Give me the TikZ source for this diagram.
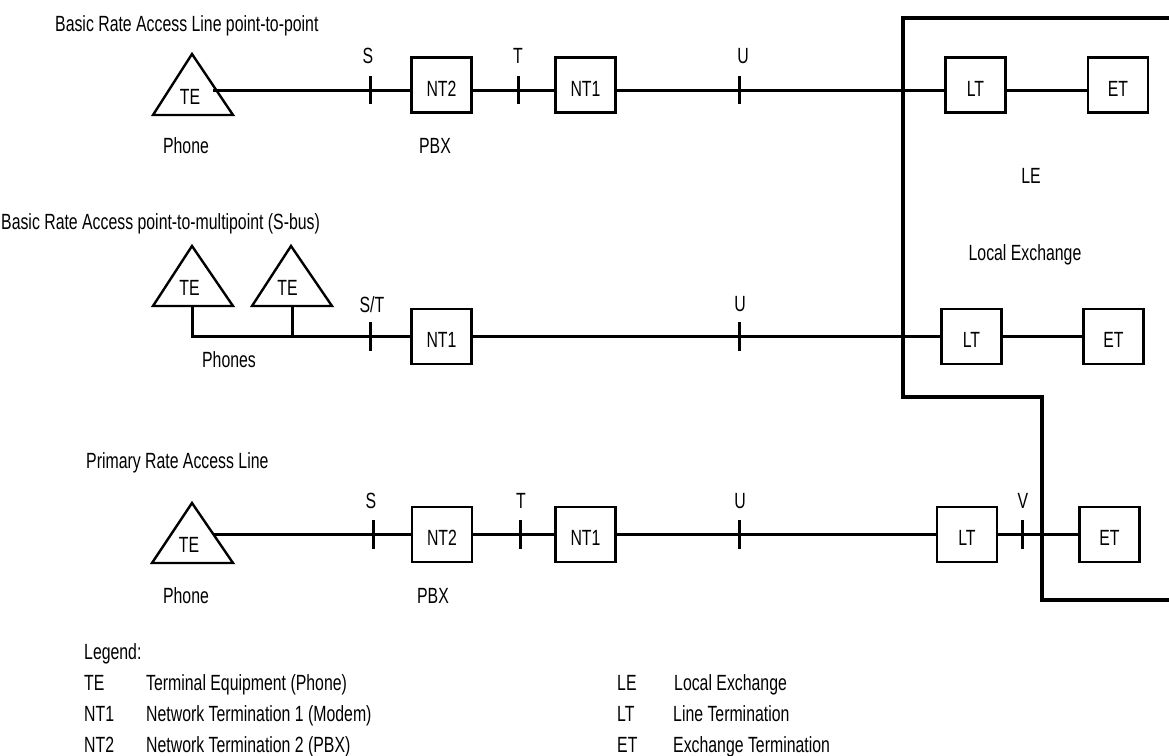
\documentclass[tikz,border=0pt]{standalone}
\usepackage{fontspec}
\setmainfont{Liberation Sans}[FakeStretch=0.72]
\begin{document}
\begin{tikzpicture}[x=1pt,y=-1pt,
  every node/.style={font=\fontsize{22}{26}\selectfont},
  lbl/.style={inner sep=0pt, anchor=base},
  lft/.style={inner sep=0pt, anchor=base west},
  box/.style={draw, line width=2.6pt, minimum width=60pt, minimum height=55pt, inner sep=0pt, text height=22pt, text depth=0pt},
  wire/.style={line width=3pt},
  tickmark/.style={line width=3pt},
  tri/.style={line width=2.4pt},
  border/.style={line width=3.5pt}]
\useasboundingbox[fill=white] (0,0) rectangle (1169,755);

% Local exchange boundary
\draw[border] (1169,18) -- (903,18) -- (903,397) -- (1042,397) -- (1042,600) -- (1169,600);
\node[lbl] (le) at (1031,183) {LE};
\node[lbl] (lex) at (1025,260) {Local Exchange};

% ---------- Row 1 ----------
\node[lft] (title1) at (55,31) {Basic Rate Access Line point-to-point};
\draw[tri] (192,54) -- (233,115) -- (153,115) -- cycle;
\node[lbl] (te1) at (190,104) {TE};
\coordinate (te1r) at (213,90);
\node[box] (nt2a) at (441.5,85) {NT2};
\node[box] (nt1a) at (585.5,85) {NT1};
\node[box] (lta) at (975.5,85) {LT};
\node[box] (eta) at (1118,85) {ET};
\draw[wire] (te1r) -- ([yshift=-5pt]nt2a.west);
\draw[wire] ([yshift=-5pt]nt2a.east) -- ([yshift=-5pt]nt1a.west);
\draw[wire] ([yshift=-5pt]nt1a.east) -- ([yshift=-5pt]lta.west);
\draw[wire] ([yshift=-5pt]lta.east) -- ([yshift=-5pt]eta.west);
\draw[tickmark] (370,76) -- (370,104);
\draw[tickmark] (518,76) -- (518,104);
\draw[tickmark] (739,76) -- (739,104);
\node[lbl] (s1) at (368,63) {S};
\node[lbl] (t1) at (518,63) {T};
\node[lbl] (u1) at (743,63) {U};
\node[lbl] (ph1) at (186,153) {Phone};
\node[lbl] (pbx1) at (435,153) {PBX};

% ---------- Row 2 ----------
\node[lft] (title2) at (1,229) {Basic Rate Access point-to-multipoint (S-bus)};
\draw[tri] (192,246) -- (233,306) -- (153,306) -- cycle;
\draw[tri] (291,246) -- (332,306) -- (252,306) -- cycle;
\node[lbl] (te2) at (189.5,295) {TE};
\node[lbl] (te3) at (287.5,295) {TE};
\coordinate (bus1) at (192,306);
\coordinate (bus2) at (292,306);
\node[box] (nt1b) at (441.5,336.5) {NT1};
\node[box] (ltb) at (971.5,336.5) {LT};
\node[box] (etb) at (1113.5,336.5) {ET};
\draw[wire] (bus1) |- (nt1b.west);
\draw[wire] (bus2) -- (bus2 |- nt1b.west);
\draw[wire] (nt1b.east) -- (ltb.west);
\draw[wire] (ltb.east) -- (etb.west);
\draw[tickmark] (370,322) -- (370,351);
\draw[tickmark] (739,322) -- (739,351);
\node[lbl] (st2) at (372,312) {S/T};
\node[lbl] (u2) at (740,311) {U};
\node[lbl] (ph2) at (229,367) {Phones};

% ---------- Row 3 ----------
\node[lft] (title3) at (86,468) {Primary Rate Access Line};
\draw[tri] (192,503) -- (233,563) -- (152,563) -- cycle;
\node[lbl] (te4) at (189,552) {TE};
\coordinate (te4r) at (213,534.5);
\node[box] (nt2c) at (442,534.5) {NT2};
\node[box] (nt1c) at (585.5,534.5) {NT1};
\node[box] (ltc) at (967,534.5) {LT};
\node[box] (etc) at (1109.5,534.5) {ET};
\draw[wire] (te4r) -- (nt2c.west);
\draw[wire] (nt2c.east) -- (nt1c.west);
\draw[wire] (nt1c.east) -- (ltc.west);
\draw[wire] (ltc.east) -- (etc.west);
\draw[tickmark] (373,520) -- (373,549);
\draw[tickmark] (520,520) -- (520,549);
\draw[tickmark] (739,520) -- (739,549);
\draw[tickmark] (1022,520) -- (1022,549);
\node[lbl] (s3) at (371,508) {S};
\node[lbl] (t3) at (521,508) {T};
\node[lbl] (u3) at (740,508) {U};
\node[lbl] (v3) at (1023,508) {V};
\node[lbl] (ph3) at (186,603) {Phone};
\node[lbl] (pbx3) at (433,603) {PBX};

% ---------- Legend ----------
\node[lft] (leg) at (84,659) {Legend:};
\node[lft] (lg1a) at (84,690) {TE};
\node[lft] (lg1b) at (146,690) {Terminal Equipment (Phone)};
\node[lft] (lg2a) at (84,721) {NT1};
\node[lft] (lg2b) at (146,721) {Network Termination 1 (Modem)};
\node[lft] (lg3a) at (84,752) {NT2};
\node[lft] (lg3b) at (146,752) {Network Termination 2 (PBX)};
\node[lft] (lg4a) at (617,690) {LE};
\node[lft] (lg4b) at (674,690) {Local Exchange};
\node[lft] (lg5a) at (617,721) {LT};
\node[lft] (lg5b) at (673,721) {Line Termination};
\node[lft] (lg6a) at (617,752) {ET};
\node[lft] (lg6b) at (673,752) {Exchange Termination};
\end{tikzpicture}
\end{document}
